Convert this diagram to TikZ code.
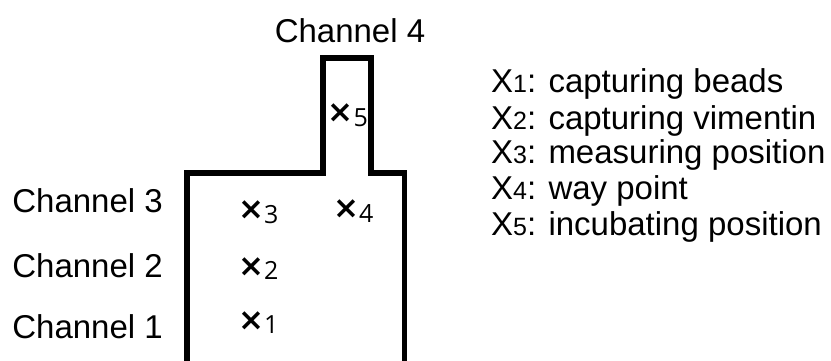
\documentclass[tikz,border=0pt]{standalone}
\usepackage{fontspec}
\setmainfont{Liberation Sans}
\newfontfamily\crossfont{Open Sans}
\newfontfamily\timesfont{DejaVu Sans}
\begin{document}
\begin{tikzpicture}[x=1pt,y=-1pt,
  lbl/.style={inner sep=0pt,font=\fontsize{33}{33}\selectfont},
  leg/.style={inner sep=0pt,anchor=base west,font=\fontsize{33}{33}\selectfont},
  pt/.style={inner sep=0pt,anchor=base west},
  wall/.style={line width=5.5pt,miter limit=10}]
\useasboundingbox (0,0) rectangle (831,361);
\newcommand{\sdig}[1]{{\fontsize{25}{25}\selectfont #1}}
\newcommand{\mk}[1]{{\timesfont\fontsize{31}{31}\selectfont\bfseries ×}\raisebox{-3.5pt}{\crossfont\fontsize{25}{25}\selectfont #1}}
% channel outline
\coordinate (bl) at (187,361);
\coordinate (br) at (404.5,361);
\draw[wall] (bl) |- (323,173) |- (371,58) |- (404.5,173) -- (br);
% channel labels
\node[lbl,anchor=base] (c4) at (350,43) {Channel 4};
\node[lbl,anchor=base east] (c3) at (163,212) {Channel 3};
\node[lbl,anchor=base east] (c2) at (163,277) {Channel 2};
\node[lbl,anchor=base east] (c1) at (163,338) {Channel 1};
% positions
\node[pt] (x1) at (238,330) {\mk{1}};
\node[pt] (x2) at (238,276) {\mk{2}};
\node[pt] (x3) at (238,219.5) {\mk{3}};
\node[pt] (x4) at (333,218.5) {\mk{4}};
\node[pt] (x5) at (327.5,123) {\mk{5}};
% legend
\node[leg] (l1) at (491,93) {X\sdig{1}: capturing beads};
\node[leg] (l2) at (491,129) {X\sdig{2}: capturing vimentin};
\node[leg] (l3) at (491,164) {X\sdig{3}: measuring position};
\node[leg] (l4) at (491,199) {X\sdig{4}: way point};
\node[leg] (l5) at (491,235) {X\sdig{5}: incubating position};
\end{tikzpicture}
\end{document}
